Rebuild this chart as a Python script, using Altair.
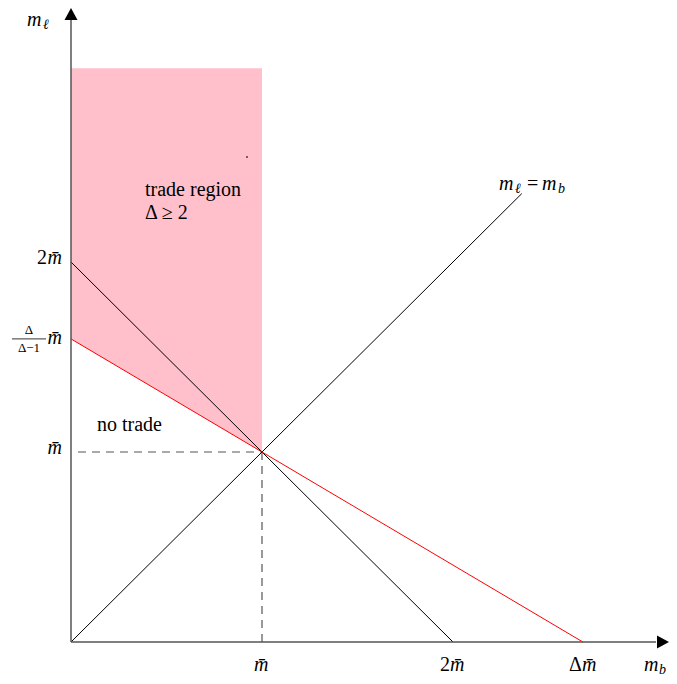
import altair as alt
import pandas as pd

# ---- values (units of m-bar) ----
D = 2.68                      # Delta
kink = D / (D - 1)            # Delta/(Delta-1)
region_top = 3.02
diag_end = 2.36

# plot geometry (data domain chosen so origin sits at the reference position)
W, H = 661, 668
UX, UY = 191.0, 190.0
xmin = -63 / UX
xmax = xmin + W / UX
ymax = 634 / UY
ymin = ymax - H / UY

def px_x(p):  # page pixel -> data x
    return (p - 71) / UX

def px_y(p):  # page pixel -> data y
    return (642 - p) / UY

xs = alt.Scale(domain=[xmin, xmax], nice=False, zero=False)
ys = alt.Scale(domain=[ymin, ymax], nice=False, zero=False)
X = lambda f: alt.X(f, type="quantitative", scale=xs, axis=None)
Y = lambda f: alt.Y(f, type="quantitative", scale=ys, axis=None)

FONT = "Liberation Serif"
FS = 20

# pink trade region
region = pd.DataFrame({"x": [0, 1], "top": [region_top, region_top], "bot": [kink, 1]})
area = alt.Chart(region).mark_area(color="#FFC0CB", opacity=1).encode(
    x=X("x"), y=Y("top"), y2="bot")

# lines
lines = pd.DataFrame({
    "seg": ["black", "black", "red", "red", "diag", "diag"],
    "x": [0, 2, 0, D, 0, diag_end],
    "y": [2, 0, kink, 0, 0, diag_end],
})
black = alt.Chart(lines[lines.seg != "red"]).mark_line(color="black", strokeWidth=1).encode(
    x=X("x"), y=Y("y"), detail="seg:N")
red = alt.Chart(lines[lines.seg == "red"]).mark_line(color="red", strokeWidth=1).encode(
    x=X("x"), y=Y("y"))

# dashed guides
dash_df = pd.DataFrame({"x": [px_x(78), 1], "x2": [1, 1], "y": [1, 1], "y2": [1, 0]})
dash = alt.Chart(dash_df).mark_rule(color="#555555", strokeWidth=1.2, strokeDash=[8, 6]).encode(
    x=X("x"), x2="x2", y=Y("y"), y2="y2")

# axes
axes_df = pd.DataFrame({"x": [0, 0], "x2": [0, px_x(656)], "y": [0, 0], "y2": [px_y(20), 0]})
axes = alt.Chart(axes_df).mark_rule(color="#555555", strokeWidth=1.5).encode(
    x=X("x"), x2="x2", y=Y("y"), y2="y2")
up = alt.Chart(pd.DataFrame({"x": [0], "y": [px_y(8 + 6.5)]})).mark_point(
    shape="M0,-1L-1,0.85L1,0.85Z", size=169, filled=True, color="black", opacity=1).encode(
    x=X("x"), y=Y("y"))
right = alt.Chart(pd.DataFrame({"x": [px_x(669 - 6.5)], "y": [0]})).mark_point(
    shape="M1,0L-0.85,-1L-0.85,1Z", size=169, filled=True, color="black", opacity=1).encode(
    x=X("x"), y=Y("y"))

# tiny dot
dot = alt.Chart(pd.DataFrame({"x": [px_x(247)], "y": [px_y(157)]})).mark_point(
    shape="square", size=2, filled=True, color="black", opacity=1).encode(x=X("x"), y=Y("y"))

MB = "m\u0304"

def txt(df, align="left", baseline="alphabetic", size=FS, italic=False, dy=0):
    kw = dict(font=FONT, fontSize=size, align=align, baseline=baseline, dy=dy)
    if italic:
        kw["fontStyle"] = "italic"
    return alt.Chart(df).mark_text(**kw).encode(x=X("x"), y=Y("y"), text="t:N")

# x tick labels: upright prefix + italic m-bar
xtick_prefix = ["", "2", "Δ"]
xtick_pos = [1, 2, D]
xtick_split = [-8, -3, -1]
base_y = px_y(671)
xt_m = pd.DataFrame({"x": [p + s / UX for p, s in zip(xtick_pos, xtick_split)],
                     "y": [base_y] * 3, "t": [MB] * 3})
xt_p = pd.DataFrame({"x": [p + s / UX for p, s in zip(xtick_pos, xtick_split)],
                     "y": [base_y] * 3, "t": xtick_prefix})
xt_p = xt_p[xt_p.t != ""]
xticks_m = txt(xt_m, align="left", italic=True)
xticks_p = txt(xt_p, align="right")

# y tick labels
ytick_pos = [1, 2]
yt_m = pd.DataFrame({"x": [px_x(62)] * 2, "y": ytick_pos, "t": [MB] * 2})
yt_p = pd.DataFrame({"x": [px_x(47)], "y": [2], "t": ["2"]})
yticks_m = txt(yt_m, align="right", baseline="middle", italic=True, dy=-4)
yticks_p = txt(yt_p, align="right", baseline="middle", dy=-4)

# fraction label Delta/(Delta-1) m-bar
frac_num = txt(pd.DataFrame({"x": [px_x(29)], "y": [kink], "t": ["Δ"]}),
               align="center", baseline="middle", size=13, dy=-9)
frac_den = txt(pd.DataFrame({"x": [px_x(29)], "y": [kink], "t": ["Δ−1"]}),
               align="center", baseline="middle", size=13, dy=9)
frac_m = txt(pd.DataFrame({"x": [px_x(62)], "y": [kink], "t": [MB]}),
             align="right", baseline="middle", italic=True, dy=-1)
frac_bar = alt.Chart(pd.DataFrame({"x": [px_x(12)], "x2": [px_x(46)], "y": [kink]})).mark_rule(
    color="black", strokeWidth=0.8).encode(x=X("x"), x2="x2", y=Y("y"))

# annotations
notes = pd.DataFrame({
    "x": [px_x(145), px_x(145), px_x(97)],
    "y": [px_y(196), px_y(219), px_y(431)],
    "t": ["trade region", "Δ ≥ 2", "no trade"],
})
notes_ch = txt(notes)

# italic math labels with subscripts
math_it = txt(pd.DataFrame({
    "x": [px_x(27), px_x(499), px_x(542), px_x(644)],
    "y": [px_y(26), px_y(190), px_y(190), px_y(671)],
    "t": ["m", "m", "m", "m"],
}), italic=True)
math_eq = txt(pd.DataFrame({"x": [px_x(527)], "y": [px_y(190)], "t": ["="]}))
subs_ch = txt(pd.DataFrame({
    "x": [px_x(43), px_x(515), px_x(558), px_x(659)],
    "y": [px_y(29), px_y(193), px_y(193), px_y(674)],
    "t": ["ℓ", "ℓ", "b", "b"],
}), size=14, italic=True)

chart = alt.layer(
    area, dash, black, red, axes, up, right, dot,
    xticks_m, xticks_p, yticks_m, yticks_p,
    frac_bar, frac_num, frac_den, frac_m,
    notes_ch, math_it, math_eq, subs_ch
).properties(
    width=W, height=H, padding=0, background="white",
    autosize=alt.AutoSizeParams(type="none")
).configure_view(stroke=None, strokeWidth=0)

chart.save("out.html", embed_options={"renderer": "svg", "actions": False})
